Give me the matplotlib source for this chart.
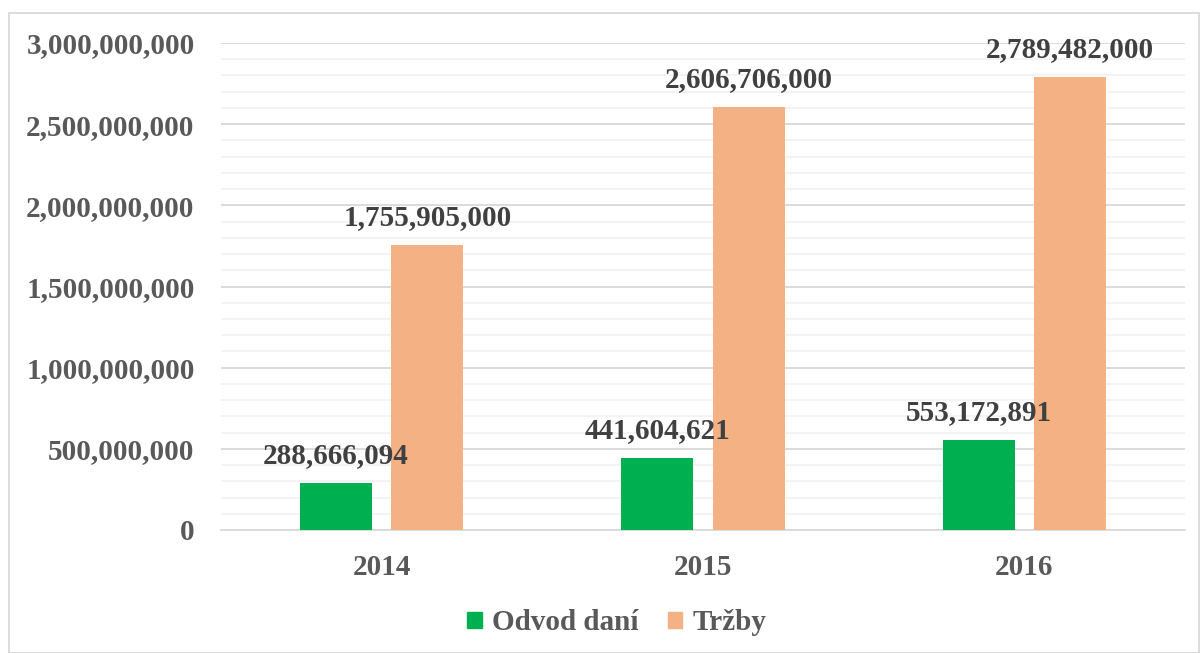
import matplotlib
matplotlib.use("Agg")
import matplotlib.pyplot as plt
from matplotlib.ticker import MultipleLocator, FuncFormatter
from matplotlib.patches import Rectangle, Patch
import numpy as np

categories = ["2014", "2015", "2016"]
odvod_dani = [288666094, 441604621, 553172891]
trzby = [1755905000, 2606706000, 2789482000]
series_names = ["Odvod daní", "Tržby"]

plt.rcParams['font.family'] = ['Liberation Serif', 'DejaVu Serif']
plt.rcParams['font.weight'] = 'bold'

fig = plt.figure(figsize=(12.01, 6.53), dpi=100)
ax = fig.add_axes([221/1201, 1-530/653, 964/1201, (530-43)/653])

x = np.arange(len(categories))
w = 0.224
off = 0.142
green = '#00B050'
orange = '#F4B183'
b1 = ax.bar(x - off, odvod_dani, w, color=green, zorder=3)
b2 = ax.bar(x + off, trzby, w, color=orange, zorder=3)

for rects, vals in ((b1, odvod_dani), (b2, trzby)):
    for r, v in zip(rects, vals):
        ax.annotate(f"{v:,}", (r.get_x() + r.get_width()/2, v),
                    xytext=(0, 10), textcoords='offset points',
                    ha='center', va='bottom', fontsize=21, fontweight='bold',
                    color='#404040', zorder=4)

ax.set_xlim(-0.5, 2.5)
ax.set_ylim(0, 3e9)
ax.yaxis.set_major_locator(MultipleLocator(5e8))
ax.yaxis.set_minor_locator(MultipleLocator(1e8))
ax.yaxis.set_major_formatter(FuncFormatter(lambda v, p: f"{int(v):,}"))
ax.grid(axis='y', which='major', color='#D9D9D9', linewidth=1.3, zorder=0)
ax.grid(axis='y', which='minor', color='#F2F2F2', linewidth=1.3, zorder=0)
ax.set_axisbelow(True)
ax.set_xticks(x)
ax.set_xticklabels(categories)
ax.tick_params(axis='both', which='both', length=0, labelsize=21, labelcolor='#595959')
ax.tick_params(axis='y', pad=19)
ax.tick_params(axis='x', pad=17)
for s in ['top', 'right', 'left']:
    ax.spines[s].set_visible(False)
ax.spines['bottom'].set_color('#D9D9D9')
ax.spines['bottom'].set_linewidth(1.3)

handles = [Patch(color=green), Patch(color=orange)]
leg = fig.legend(handles, series_names, loc='center', bbox_to_anchor=(617/1201, 1-623/653),
                 ncol=2, frameon=False, handlelength=0.5, handleheight=0.5,
                 handletextpad=0.35, columnspacing=1.0,
                 prop={'family': ['Liberation Serif', 'DejaVu Serif'], 'weight': 'bold', 'size': 21})
for t in leg.get_texts():
    t.set_color('#595959')

fig.patches.append(Rectangle((9/1201, 0), 1190/1201, 1-13/653, transform=fig.transFigure,
                             fill=False, edgecolor='#D9D9D9', linewidth=1.3))

fig.savefig("out.png", dpi=100)
